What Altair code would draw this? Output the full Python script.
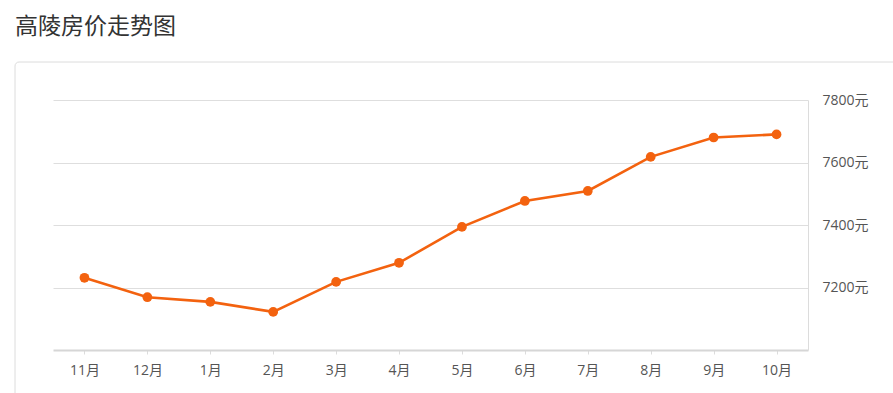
import altair as alt
import pandas as pd

months = ["11月", "12月", "1月", "2月", "3月", "4月", "5月", "6月", "7月", "8月", "9月", "10月"]
prices = [7231, 7169, 7154, 7122, 7218, 7279, 7394, 7477, 7509, 7618, 7680, 7690]
y_ticks = [7200, 7400, 7600, 7800]

df = pd.DataFrame({"month": months, "price": prices})
FONT = "Noto Sans CJK SC"
LFONT = "Open Sans, Noto Sans CJK SC"
ORANGE = "#f3620f"

box = alt.Chart(pd.DataFrame({"a": [0]})).mark_rect(
    fill="white", fillOpacity=0, stroke="#dcdcdc", strokeWidth=1, cornerRadius=4
).encode(
    x=alt.value(-38), x2=alt.value(860), y=alt.value(-38), y2=alt.value(320)
)

x_enc = alt.X(
    "month:N", sort=months,
    scale=alt.Scale(type="point", padding=0.5),
    axis=alt.Axis(
        title=None, labelAngle=0, labelFont=LFONT, labelFontSize=14, labelColor="#555",
        domainColor="#d6d6d6", domainWidth=2, tickColor="#dcdcdc", tickSize=4,
        labelPadding=9, grid=False,
    ),
)
y_enc = alt.Y(
    "price:Q",
    scale=alt.Scale(domain=[7000, 7800], nice=False, zero=False),
    axis=alt.Axis(
        title=None, orient="right", values=y_ticks, labelExpr="datum.value + '元'",
        labelFont=LFONT, labelFontSize=14, labelColor="#555", ticks=False,
        labelPadding=14, domainColor="#dcdcdc", domainWidth=1,
        grid=True, gridColor="#dedede", gridWidth=1,
    ),
)

line = alt.Chart(df).mark_line(color=ORANGE, strokeWidth=2.6).encode(x=x_enc, y=y_enc)
pts = alt.Chart(df).mark_point(filled=True, color=ORANGE, size=95, opacity=1).encode(x=x_enc, y=y_enc)

chart = alt.layer(box, line, pts).properties(
    width=755, height=250,
    background="white",
    autosize=alt.AutoSizeParams(type="none"),
    padding={"left": 53, "top": 100, "right": 85, "bottom": 43},
    title=alt.TitleParams(
        "高陵房价走势图", anchor="start", font=FONT, fontSize=23, fontWeight="normal",
        color="#333", dx=-38, offset=23, frame="group",
    ),
).configure_view(stroke="transparent", strokeWidth=0)

chart.save("out.html", embed_options={"renderer": "svg", "actions": False})
